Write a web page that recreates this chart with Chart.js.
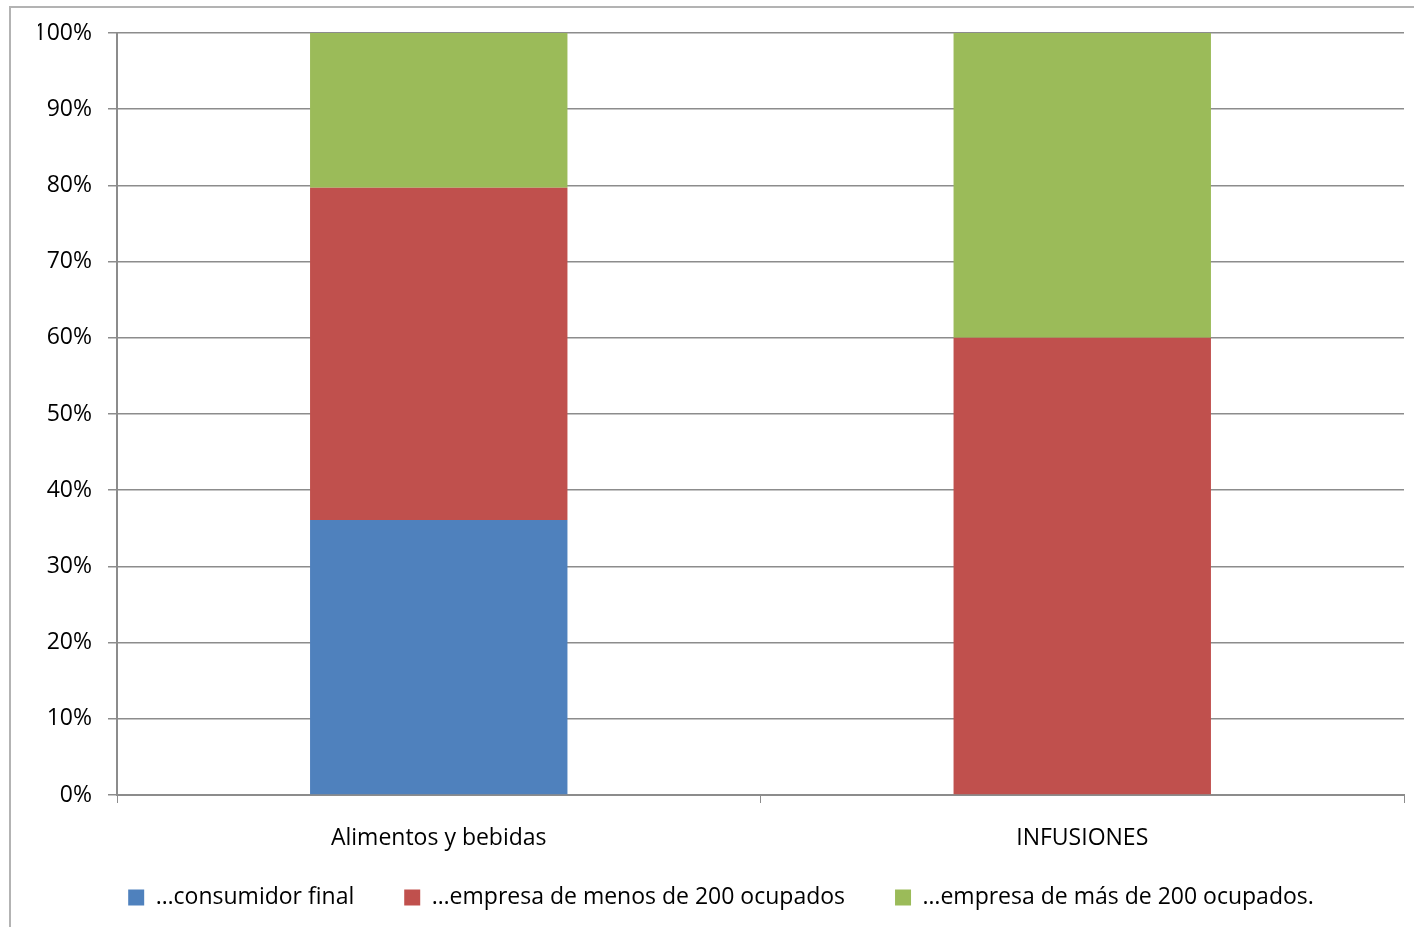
<!DOCTYPE html>
<html>
<head>
<meta charset="utf-8">
<script src="https://cdn.jsdelivr.net/npm/chart.js@4"></script>
<style>
  html, body { margin: 0; padding: 0; background: #fff; overflow: hidden; }
  #wrap { position: relative; width: 1414px; height: 927px; }
  #frame { position: absolute; left: 9px; top: 6px; width: 1420px; height: 940px; border: 2px solid #b3b3b3; box-sizing: border-box; }
  canvas { position: absolute; left: 0; top: 0; }
</style>
</head>
<body>
<div id="wrap">
  <div id="frame"></div>
  <canvas id="chart" width="1414" height="927"></canvas>
</div>
<script>
// categories and shares (%)
const categories = ['Alimentos y bebidas', 'INFUSIONES'];
const consumidorFinal = [36.1, 0];
const empresaMenos200 = [43.6, 60.0];
const empresaMas200 = [20.3, 40.0];
const yTicks = [0, 10, 20, 30, 40, 50, 60, 70, 80, 90, 100];

const font = { family: "'Open Sans', 'Noto Sans', sans-serif", size: 23 };
const gridColor = '#8c8c8c';
const legendTrim = 19; // legend padding is also the item gap; trim the space it adds above

const chart = new Chart(document.getElementById('chart'), {
  type: 'bar',
  data: {
    labels: categories,
    datasets: [
      { label: '…consumidor final', data: consumidorFinal, backgroundColor: '#4F81BD' },
      { label: '…empresa de menos de 200 ocupados', data: empresaMenos200, backgroundColor: '#C0504D' },
      { label: '…empresa de más de 200 ocupados.', data: empresaMas200, backgroundColor: '#9BBB59' }
    ]
  },
  options: {
    responsive: false,
    animation: false,
    devicePixelRatio: 1,
    layout: { padding: { left: 38, right: 10, top: 33, bottom: 8 } },
    datasets: { bar: { barPercentage: 0.4, categoryPercentage: 1.0, borderWidth: 0 } },
    plugins: {
      tooltip: { enabled: false },
      legend: {
        position: 'bottom',
        labels: {
          font: font,
          color: '#000',
          boxWidth: 16,
          boxHeight: 16,
          padding: 50
        }
      }
    },
    scales: {
      x: {
        stacked: true,
        grid: { display: true, drawOnChartArea: false, color: gridColor, tickLength: 8, offset: true },
        border: { color: gridColor, width: 2 },
        ticks: { font: font, color: '#000', padding: 22 },
        afterFit: s => { s.height = 60; }
      },
      y: {
        stacked: true,
        min: 0,
        max: 100,
        afterBuildTicks: s => { s.ticks = yTicks.map(v => ({ value: v })); },
        grid: { color: gridColor, lineWidth: 1.5, tickLength: 9 },
        border: { color: gridColor, width: 2 },
        ticks: { font: font, color: '#000', padding: 16, callback: v => v + '%' },
        afterFit: s => { s.width = 79; }
      }
    }
  }
});

const lg = chart.legend;
const origFit = lg.fit;
lg.fit = function () { origFit.call(this); this.height -= legendTrim; };
const origDraw = lg.draw;
lg.draw = function () { this.top -= legendTrim; origDraw.call(this); this.top += legendTrim; };
chart.update();
</script>
</body>
</html>
